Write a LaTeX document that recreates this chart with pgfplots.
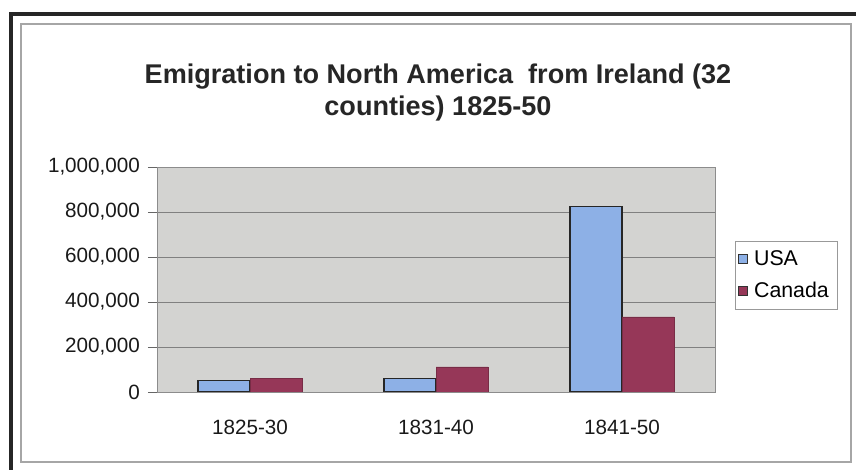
\documentclass[border=0pt]{standalone}
\usepackage{fontspec}
\setmainfont{Liberation Sans}
\usepackage{pgfplots}
\pgfplotsset{compat=1.18}

\definecolor{usablue}{RGB}{141,176,230}
\definecolor{canmaroon}{RGB}{150,55,88}
\definecolor{plotbg}{RGB}{211,211,209}

% pixel helper: 1px = 0.75pt, y measured from the top of the 856x470 image
\newcommand{\px}[2]{(#1*0.75pt,{(470-#2)*0.75pt})}

\begin{document}
\begin{tikzpicture}
  % page size and frame
  \path[use as bounding box] (0,0) rectangle (642pt,352.5pt);
  \draw[gray!70, line width=0.8pt] \px{21}{24} rectangle \px{851}{462};
  \draw[black!85, line width=2.4pt] \px{11}{470} -- \px{11}{14} -- \px{856}{14};

  % title
  \node[align=center, font=\fontsize{20.3}{24}\selectfont\bfseries, text=black!85]
    at \px{438}{93} {Emigration to North America\ \ from Ireland (32\\counties) 1825-50};

  \begin{axis}[
      at={(117.75pt,58.5pt)}, anchor=south west,
      scale only axis,
      width=418.5pt, height=168.75pt,
      axis background/.style={fill=plotbg},
      ybar=0pt, bar width=39pt,
      xmin=-0.5, xmax=2.5,
      ymin=0, ymax=1000000,
      xtick={0,1,2},
      xticklabels={1825-30,1831-40,1841-50},
      major x tick style={draw=none},
      extra x ticks={0.5,1.5},
      extra x tick labels={},
      extra x tick style={major tick length=4pt, tick style={black!60}},
      ytick={0,200000,400000,600000,800000,1000000},
      scaled y ticks=false,
      /pgf/number format/fixed,
      /pgf/number format/1000 sep={,},
      /pgf/number format/assume math mode=true,
      tick label style={font=\fontsize{15.5}{18}\selectfont, text=black!90},
      yticklabel style={xshift=-2.5pt},
      xticklabel style={yshift=-11pt},
      tick align=outside,
      tick pos=left,
      major tick length=6.75pt,
      tick style={black!60, line width=0.6pt},
      ymajorgrids,
      grid style={black!50, line width=0.6pt},
      axis line style={black!45, line width=0.7pt},
      legend style={
        at={(1.036,0.671)}, anchor=north west,
        draw=black!40, fill=white,
        font=\fontsize{16}{19}\selectfont,
        inner xsep=2pt, inner ysep=5pt,
        row sep=7pt,
        legend cell align=left
      },
      legend image code/.code={
        \draw[#1, draw=black!80, line width=0.4pt] (1pt,-3.5pt) rectangle (8pt,3.5pt);
      },
    ]
    \addplot[fill=usablue, draw=black!85, line width=0.8pt]
      coordinates {(0,50000) (1,59000) (2,825000)};
    \addplot[fill=canmaroon, draw=canmaroon!80!black, line width=0.4pt]
      coordinates {(0,60000) (1,112000) (2,334000)};
    \legend{\,USA\,,\,Canada\,}
  \end{axis}
\end{tikzpicture}
\end{document}
